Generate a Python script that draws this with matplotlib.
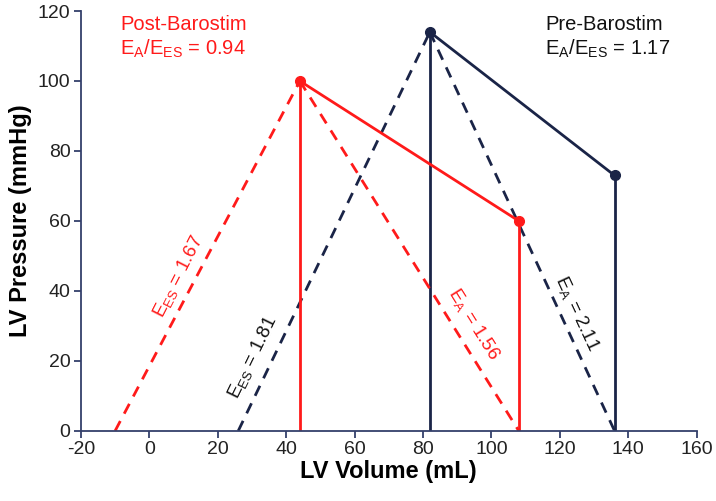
import matplotlib
matplotlib.use('Agg')
import matplotlib.pyplot as plt

plt.rcParams['font.family'] = ['Liberation Sans', 'DejaVu Sans']
plt.rcParams['mathtext.default'] = 'regular'
plt.rcParams['axes.unicode_minus'] = False

navy = '#1a2447'
red = '#ff1a1a'
axis_col = '#34406b'

# Pre-Barostim loop corners (volume, pressure)
pre_v0 = 26
pre_es = (82, 114)
pre_ed = (136, 73)
# Post-Barostim
post_v0 = -10
post_es = (44, 100)
post_ed = (108, 60)

fig = plt.figure(figsize=(7.16, 5.01), dpi=100)
ax = fig.add_axes([0.113, 0.14, 0.86, 0.838])

for v0, es, ed, c in [(pre_v0, pre_es, pre_ed, navy), (post_v0, post_es, post_ed, red)]:
    # ESPVR and Ea lines (dashed)
    ax.plot([v0, es[0]], [0, es[1]], color=c, lw=2, ls=(0, (4, 3)))
    ax.plot([es[0], ed[0]], [es[1], 0], color=c, lw=2, ls=(0, (4, 3)))
    # verticals and ES-ED segment
    ax.plot([es[0], es[0]], [0, es[1]], color=c, lw=2)
    ax.plot([ed[0], ed[0]], [0, ed[1]], color=c, lw=2)
    ax.plot([es[0], ed[0]], [es[1], ed[1]], color=c, lw=2)
    ax.plot([es[0], ed[0]], [es[1], ed[1]], 'o', color=c, ms=7, zorder=5)

ax.set_xlim(-20, 160)
ax.set_ylim(0, 120)
ax.set_xticks(range(-20, 161, 20))
ax.set_yticks(range(0, 121, 20))
ax.spines['top'].set_visible(False)
ax.spines['right'].set_visible(False)
for s in ['left', 'bottom']:
    ax.spines[s].set_color(axis_col)
    ax.spines[s].set_linewidth(1.3)
ax.tick_params(colors=axis_col, labelcolor='#222222', labelsize=14, length=5, width=1.3, pad=2.5)
ax.set_xlabel('LV Volume (mL)', fontsize=17, fontweight='bold', labelpad=1)
ax.set_ylabel('LV Pressure (mmHg)', fontsize=17, fontweight='bold', labelpad=4)

ax.text(-8.6, 112.5, 'Post-Barostim\n$E_A/E_{ES}$ = 0.94', color=red, fontsize=14.5,
        va='center', ha='left', linespacing=1.2)
ax.text(115.7, 112.5, 'Pre-Barostim\n$E_A/E_{ES}$ = 1.17', color='#111111', fontsize=14.5,
        va='center', ha='left', linespacing=1.2)

ax.text(8.4, 44, '$E_{ES}$ = 1.67', color=red, fontsize=13.5, rotation=63,
        ha='center', va='center')
ax.text(30.3, 21, '$E_{ES}$ = 1.81', color='#111111', fontsize=13.5, rotation=64,
        ha='center', va='center')
ax.text(95, 30.6, '$E_{A}$ = 1.56', color=red, fontsize=13.5, rotation=-58,
        ha='center', va='center')
ax.text(125, 33.7, '$E_{A}$ = 2.11', color='#111111', fontsize=13.5, rotation=-65,
        ha='center', va='center')

fig.savefig('out.png')
